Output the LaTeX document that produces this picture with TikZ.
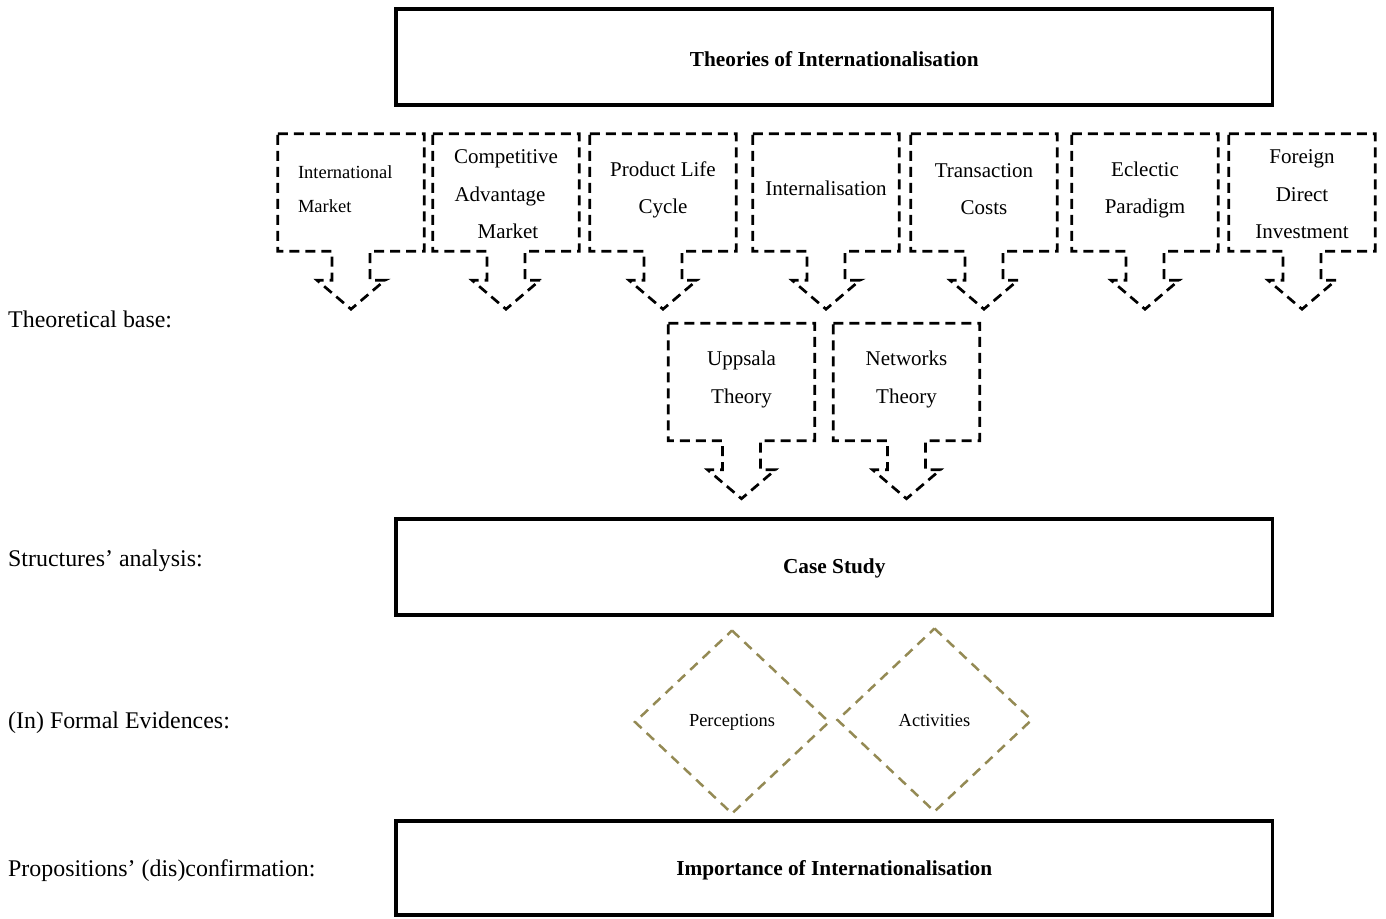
\documentclass[tikz,border=0pt]{standalone}
\usepackage{fontspec}
\setmainfont{Liberation Serif}
\usetikzlibrary{calc}
\tikzset{
  bigbox/.style={draw, line width=3.5pt, minimum width=876.5pt, minimum height=96pt, inner sep=0pt},
  btext/.style={inner sep=0pt, font=\bfseries\fontsize{21.3}{25}\selectfont},
  cbox/.style={draw=none, minimum width=146pt, minimum height=117pt, inner sep=0pt},
  ctext/.style={inner sep=0pt, align=center, font=\fontsize{21}{37.5}\selectfont},
  cline/.style={draw, line width=2.7pt, dash pattern=on 10pt off 6pt},
  dline/.style={draw=diamcol, line width=2.5pt, dash pattern=on 10pt off 7pt},
  dtext/.style={inner sep=0pt, font=\fontsize{18.4}{22}\selectfont},
  side/.style={anchor=base west, inner sep=0pt, font=\fontsize{23.9}{28}\selectfont}
}
\definecolor{diamcol}{HTML}{948A54}
\newcommand\calloutshape[1]{%
  \draw[cline] (#1.north west) -- (#1.north east) -- (#1.south east) -- ([xshift=19pt]#1.south) -- ++(0,29) -- ++(15,0) -- ++(-34,29) -- ++(-34,-29) -- ++(15,0) -- ++(0,-29) -- (#1.south west) -- cycle;}
\newcommand\diamshape[1]{%
  \draw[dline] ([yshift=91.5pt]#1.center) -- ([xshift=97pt]#1.center) -- ([yshift=-91.5pt]#1.center) -- ([xshift=-97pt]#1.center) -- cycle;}
\begin{document}
\begin{tikzpicture}[x=1pt,y=-1pt]
\useasboundingbox (0,0) rectangle (1386,918);
% big boxes
\node[bigbox] (theories) at (834.25,57) {};
\node[btext] (theoriest) at ([yshift=-2pt]theories.center) {Theories of Internationalisation};
\node[bigbox] (case) at (834.25,567) {};
\node[btext] (caset) at ([yshift=-1.5pt]case.center) {Case Study};
\node[bigbox, minimum height=94pt] (importance) at (834.25,868) {};
\node[btext] (importancet) at ([yshift=-2.5pt]importance.center) {Importance of Internationalisation};
% side labels
\node[side] (lab1) at (8,327) {Theoretical base:};
\node[side] (lab2) at (8,566) {Structures’ analysis:};
\node[side] (lab3) at (8,728) {(In) Formal Evidences:};
\node[side] (lab4) at (8,876) {Propositions’ (dis)confirmation:};
% theory callouts
\node[cbox] (im) at (351,192.5) {};
\node[cbox] (cam) at (506,192.5) {};
\node[cbox] (plc) at (663,192.5) {};
\node[cbox] (int) at (826,192.5) {};
\node[cbox] (tc) at (984,192.5) {};
\node[cbox] (ep) at (1145,192.5) {};
\node[cbox] (fdi) at (1302,192.5) {};
\node[cbox] (upp) at (741.5,382) {};
\node[cbox] (net) at (906.5,382) {};
\foreach \n in {im,cam,plc,int,tc,ep,fdi,upp,net}{\calloutshape{\n}}
\node[ctext, text width=106pt, align=left, font=\fontsize{18.5}{34}\selectfont] (imt) at ([yshift=3pt]im.center) {International\\Market};
\node[ctext] (camt) at ([yshift=-2pt]cam.center) {Competitive\\Advantage\hspace*{12pt}\mbox{}\\\hspace*{4pt}Market};
\node[ctext] (plct) at ([yshift=2.5pt]plc.center) {Product Life\\Cycle};
\node[ctext] (intt) at ([yshift=4pt]int.center) {Internalisation};
\node[ctext] (tct) at ([yshift=3.5pt]tc.center) {Transaction\\Costs};
\node[ctext] (ept) at ([yshift=2.5pt]ep.center) {Eclectic\\Paradigm};
\node[ctext] (fdit) at ([yshift=-2pt]fdi.center) {Foreign\\Direct\\Investment};
\node[ctext] (uppt) at ([yshift=2.5pt]upp.center) {Uppsala\\Theory};
\node[ctext] (nett) at ([yshift=2.5pt]net.center) {Networks\\Theory};
% diamonds
\node[dtext] (perc) at (732,722) {Perceptions};
\node[dtext] (act) at (934.5,720) {Activities};
\diamshape{perc}
\diamshape{act}
\end{tikzpicture}
\end{document}
